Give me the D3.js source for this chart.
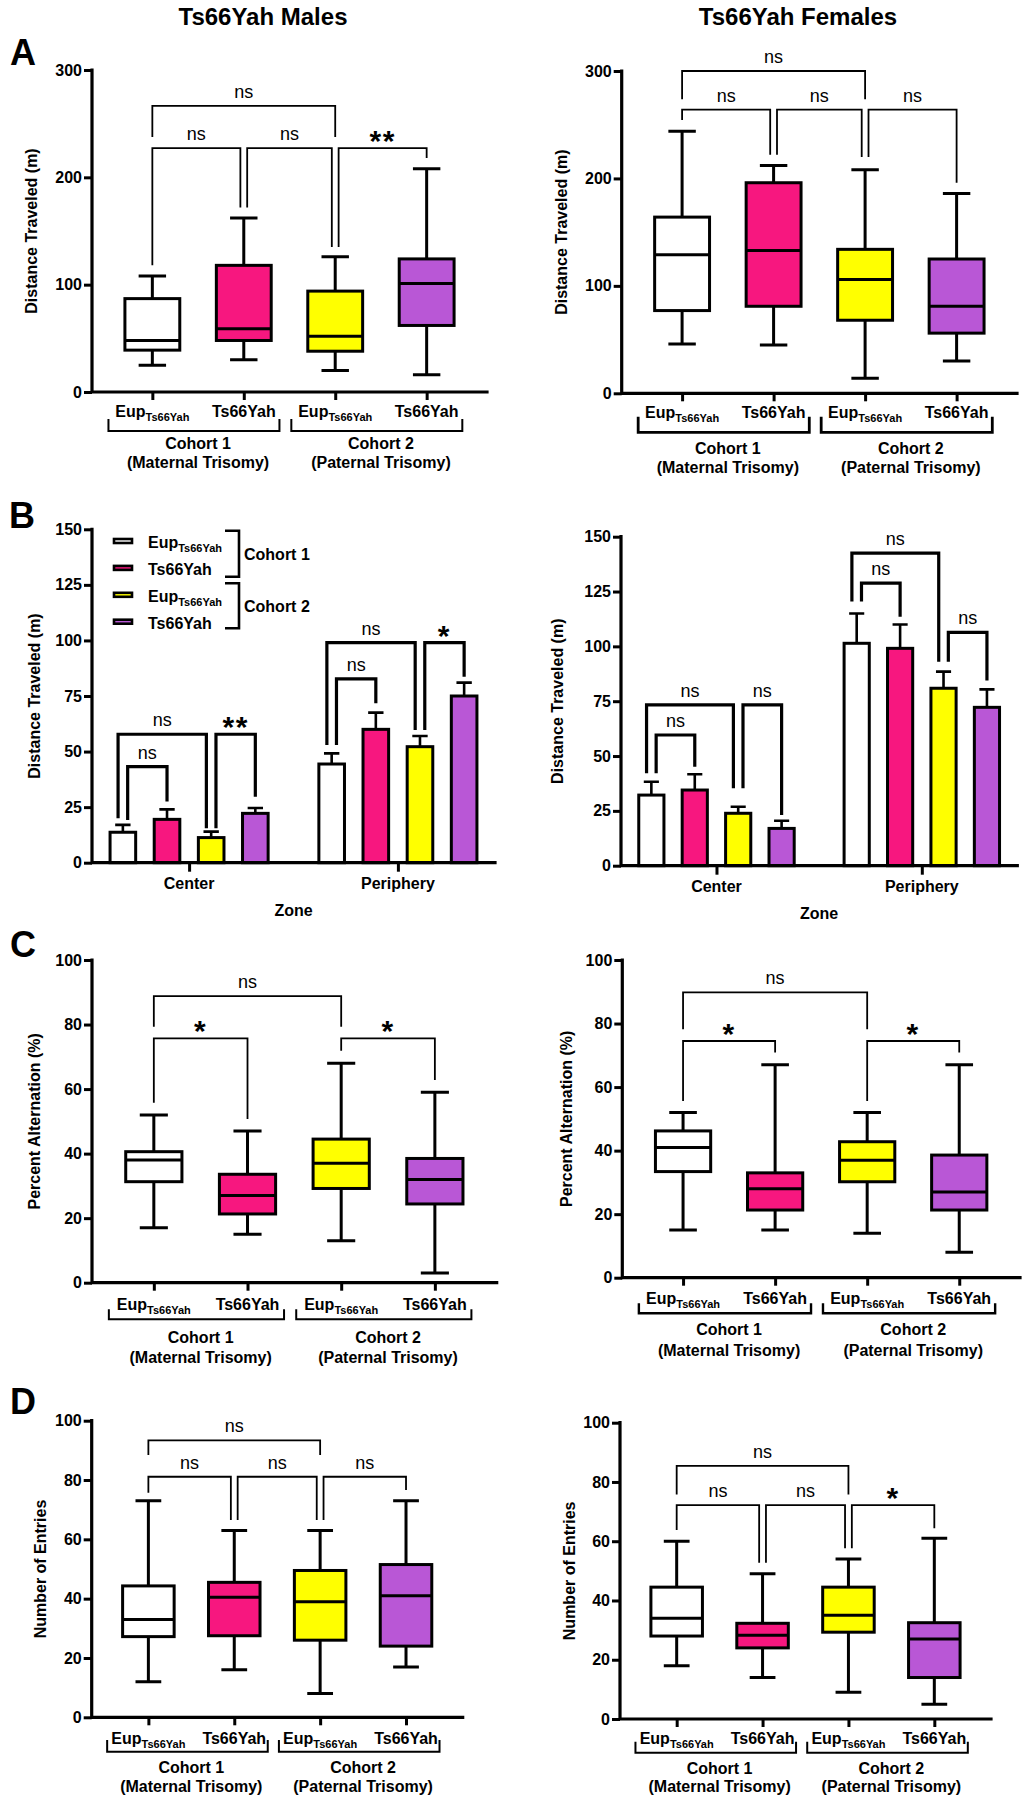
<!DOCTYPE html>
<html><head><meta charset="utf-8">
<script src="https://cdn.jsdelivr.net/npm/d3@7"></script>
<style>body{margin:0;background:#fff}svg{display:block}</style>
</head><body>
<svg id="fig" width="1027" height="1800"></svg>
<script>
// ---------------- DATA ----------------
const columnTitles = ["Ts66Yah Males", "Ts66Yah Females"];
const panelLetters = ["A", "B", "C", "D"];
const groupNames = ["Eup", "Ts66Yah", "Eup", "Ts66Yah"];
const groupSubs = ["Ts66Yah", "", "Ts66Yah", ""];
const groupFills = ["#ffffff", "#f7177f", "#ffff00", "#b957d6"];
const cohortNames = ["Cohort 1", "Cohort 2"];
const cohortParents = ["(Maternal Trisomy)", "(Paternal Trisomy)"];
const zoneNames = ["Center", "Periphery"];

const distTicks = [0, 100, 200, 300];
const zoneTicks = [0, 25, 50, 75, 100, 125, 150];
const pctTicks = [0, 20, 40, 60, 80, 100];

// box stats: [min, q1, median, q3, max]
const distMales = [[25, 39, 48, 87, 108], [30, 48, 59, 118, 162], [20, 38, 52, 94, 126], [16, 62, 101, 124, 208]];
const distFemales = [[46, 77, 129, 164, 244], [45, 81, 133, 196, 212], [14, 68, 106, 134, 208], [30, 56, 81, 125, 186]];
const altMales = [[17, 31.3, 38, 40.6, 52], [15, 21.3, 27, 33.6, 47], [13, 29.2, 37, 44.5, 68], [3, 24.4, 32, 38.5, 59]];
const altFemales = [[15, 33.4, 41, 46.2, 52], [15, 21.3, 28, 33, 67], [14, 30.2, 37, 42.8, 52], [8, 21.3, 27, 38.6, 67]];
const entMales = [[12, 27.2, 33, 44.3, 73], [16, 27.5, 40.5, 45.5, 63], [8, 26, 39, 49.5, 63], [17, 24, 41, 51.5, 73]];
const entFemales = [[18, 28, 34, 44.5, 60], [14, 24, 28.3, 32.3, 49], [9, 29.3, 35, 44.5, 54], [5, 14, 27, 32.5, 61]];

// bar means and mean+SEM, per zone
const zoneMalesMean = [[13.7, 19.5, 11.3, 22.2], [44.4, 60, 52.2, 75]];
const zoneMalesTop = [[17, 24, 14, 24.6], [49.2, 67.5, 57, 81]];
const zoneFemalesMean = [[32.2, 34.5, 23.9, 17], [101.4, 99.1, 80.9, 72.2]];
const zoneFemalesTop = [[38.3, 41.7, 26.9, 20.5], [115, 110, 88.5, 80.4]];

// significance: [from, to, label, lineValue, leftLegEnd, rightLegEnd]
const distMalesSig = [[0, 2, "ns", 266.5, 237.6, 237.6], [0, 1, "ns", 227.3, 118, 172], [1, 2, "ns", 227.3, 172, 135], [2, 3, "**", 227.3, 135, 218]];
const distFemalesSig = [[0, 2, "ns", 300, 273.6, 273.6], [0, 1, "ns", 264, 254.4, 222], [1, 2, "ns", 264, 222, 220], [2, 3, "ns", 264, 220, 196]];
const altMalesSig = [[0, 2, "ns", 88.8, 79.3, 79.3], [0, 1, "*", 75.7, 55.8, 50.7], [2, 3, "*", 75.7, 71.9, 62.8]];
const altFemalesSig = [[0, 2, "ns", 89.8, 78.2, 78.2], [0, 1, "*", 74.5, 55.6, 70.9], [2, 3, "*", 74.5, 55.6, 70.9]];
const entMalesSig = [[0, 2, "ns", 93.4, 88.4, 88.4], [0, 1, "ns", 81.1, 75.7, 66.5], [1, 2, "ns", 81.1, 66.5, 66.5], [2, 3, "ns", 81.1, 66.5, 76.6]];
const entFemalesSig = [[0, 2, "ns", 85.4, 75.8, 75.8], [0, 1, "ns", 72.2, 63.8, 52.7], [1, 2, "ns", 72.2, 52.7, 57.6], [2, 3, "*", 72.2, 57.6, 64.4]];
// zone significance: [zone, fromBar, toBar, label, lineValue, leftLegEnd, rightLegEnd]
const zoneMalesSig = [[0, 0, 1, "ns", 43.2, 19.2, 27.5], [0, 0, 2, "ns", 57.8, 20, 15.5], [0, 2, 3, "**", 57.8, 15.5, 29.7],
                      [1, 0, 1, "ns", 82.7, 53, 71.7], [1, 0, 2, "ns", 99, 53, 59.7], [1, 2, 3, "*", 99, 59.7, 83.7]];
const zoneFemalesSig = [[0, 0, 2, "ns", 73.3, 42.1, 35.3], [0, 0, 1, "ns", 59.6, 42.1, 45.1], [0, 2, 3, "ns", 73.3, 35.3, 23.1],
                        [1, 0, 2, "ns", 142.5, 120.4, 93], [1, 0, 1, "ns", 128.8, 120.4, 113.5], [1, 2, 3, "ns", 106.4, 93, 84.4]];

// ---------------- DRAWING ----------------
const FONT = '"Liberation Sans", Arial, Helvetica, sans-serif';
const svg = d3.select("#fig");
svg.append("rect").attr("width", 1027).attr("height", 1800).attr("fill", "#fff");

function txt(g, x, y, s, size, weight, anchor) {
  return g.append("text").attr("x", x).attr("y", y).text(s)
    .attr("font-family", FONT).attr("font-size", size).attr("font-weight", weight || "bold")
    .attr("text-anchor", anchor || "middle").attr("fill", "#000");
}
function groupLabel(g, x, y, i, anchor) {
  const t = g.append("text").attr("x", x).attr("y", y).attr("font-family", FONT)
    .attr("font-size", 16).attr("font-weight", "bold").attr("text-anchor", anchor || "middle");
  t.append("tspan").text(groupNames[i]);
  if (groupSubs[i]) t.append("tspan").attr("font-size", 11).attr("dy", 4).text(groupSubs[i]);
  return t;
}
function yAxis(g, c, y) {
  const a = g.append("g").attr("transform", `translate(${c.x0},0)`)
    .call(d3.axisLeft(y).tickValues(c.ticks).tickSize(8).tickPadding(2));
  a.select(".domain").remove();
  a.selectAll(".tick line").attr("stroke", "#000").attr("stroke-width", 3);
  a.selectAll(".tick text").attr("font-family", FONT).attr("font-size", 16).attr("font-weight", "bold").attr("fill", "#000");
  g.append("path").attr("d", `M${c.x0},${c.yTop}V${c.yBot}H${c.x1}`)
    .attr("fill", "none").attr("stroke", "#000").attr("stroke-width", 3.2).attr("stroke-linecap", "square");
  txt(g, 0, 0, c.title, 16).attr("transform", `translate(${c.titleX},${(c.yTop + c.yBot) / 2}) rotate(-90)`);
}
function drawSig(g, list, xpos, y, thick) {
  const d = thick ? 4.8 : 3.4;
  const items = list.map(b => ({ from: b[0], to: b[1], label: b[2], line: b[3], legL: b[4], legR: b[5] }));
  const ends = [];
  items.forEach((b, k) => {
    ends.push({ k, side: 0, idx: b.from, other: b.to, top: b.line, bot: b.legL });
    ends.push({ k, side: 1, idx: b.to, other: b.from, top: b.line, bot: b.legR });
  });
  ends.forEach(e => {
    const peers = ends.filter(o => o.idx === e.idx && Math.min(o.top, e.top) > Math.max(o.bot, e.bot));
    if (peers.length > 1) {
      peers.sort((a, b) => 1 / (a.other - a.idx) - 1 / (b.other - b.idx));
      e.off = (peers.indexOf(e) - (peers.length - 1) / 2) * 2 * d;
    } else e.off = 0;
  });
  items.forEach((b, k) => {
    const eL = ends.find(e => e.k === k && e.side === 0), eR = ends.find(e => e.k === k && e.side === 1);
    const xl = xpos(b.from) + eL.off, xr = xpos(b.to) + eR.off, yl = y(b.line);
    g.append("path").attr("d", `M${xl},${y(b.legL)}V${yl}H${xr}V${y(b.legR)}`)
      .attr("fill", "none").attr("stroke", "#000").attr("stroke-width", thick ? 3.2 : 1.8);
    const xm = (xl + xr) / 2;
    if (b.label === "ns") txt(g, xm, yl - 8, "ns", 18, "normal");
    else txt(g, xm, yl + 3, b.label, 30, "bold").attr("letter-spacing", 1.5);
  });
}

function boxPanel(c) {
  const g = svg.append("g");
  const x = d3.scalePoint().domain(d3.range(4)).range([c.x0, c.x1]).padding(0.66);
  const y = d3.scaleLinear().domain([c.ticks[0], c.ticks[c.ticks.length - 1]]).range([c.yBot, c.yTop]);
  const bw = x.step() * 0.6, step = x.step();
  c.data.forEach((d, i) => {
    const cx = x(i), [mn, q1, md, q3, mx] = d;
    g.append("path").attr("d", `M${cx},${y(mx)}V${y(mn)}M${cx - bw / 4},${y(mx)}H${cx + bw / 4}M${cx - bw / 4},${y(mn)}H${cx + bw / 4}`)
      .attr("stroke", "#000").attr("stroke-width", 3).attr("fill", "none");
    g.append("rect").attr("x", cx - bw / 2).attr("y", y(q3)).attr("width", bw).attr("height", y(q1) - y(q3))
      .attr("fill", groupFills[i]).attr("stroke", "#000").attr("stroke-width", 3);
    g.append("line").attr("x1", cx - bw / 2).attr("x2", cx + bw / 2).attr("y1", y(md)).attr("y2", y(md))
      .attr("stroke", "#000").attr("stroke-width", 3);
  });
  yAxis(g, c, y);
  const xa = g.append("g").attr("transform", `translate(0,${c.yBot})`).call(d3.axisBottom(x).tickSize(8).tickFormat(""));
  xa.select(".domain").remove();
  xa.selectAll(".tick line").attr("stroke", "#000").attr("stroke-width", 3);
  d3.range(4).forEach(i => groupLabel(g, x(i), c.yBot + c.lab, i));
  [0, 1].forEach(k => {
    const a = x(2 * k) - 0.48 * step, b = x(2 * k + 1) + 0.39 * step;
    g.append("path").attr("d", `M${a},${c.yBot + c.br[0]}V${c.yBot + c.br[1]}H${b}V${c.yBot + c.br[0]}`)
      .attr("fill", "none").attr("stroke", "#000").attr("stroke-width", c.brW);
    const xm = (x(2 * k) + x(2 * k + 1)) / 2;
    txt(g, xm, c.yBot + c.co[0], cohortNames[k], 16);
    txt(g, xm, c.yBot + c.co[1], cohortParents[k], 16);
  });
  drawSig(g, c.sig, i => x(i), y, false);
}

function barPanel(c) {
  const g = svg.append("g");
  const y = d3.scaleLinear().domain([0, 150]).range([c.yBot, c.yTop]);
  const xz = d3.scalePoint().domain(zoneNames).range([c.x0, c.x1]).padding(0.465);
  const gw = xz.step() * 0.757;
  const xb = d3.scaleBand().domain(d3.range(4)).range([-gw / 2, gw / 2]).paddingInner(0.42).paddingOuter(0);
  const bw = xb.bandwidth();
  const xpos = idx => xz(zoneNames[Math.floor(idx / 4)]) + xb(idx % 4) + bw / 2;
  zoneNames.forEach((z, zi) => {
    c.mean[zi].forEach((m, i) => {
      const cx = xpos(zi * 4 + i), top = c.top[zi][i];
      g.append("path").attr("d", `M${cx},${y(m)}V${y(top)}M${cx - bw * 0.3},${y(top)}H${cx + bw * 0.3}`)
        .attr("stroke", "#000").attr("stroke-width", 2.6).attr("fill", "none");
      g.append("rect").attr("x", cx - bw / 2).attr("y", y(m)).attr("width", bw).attr("height", y(0) - y(m))
        .attr("fill", groupFills[i]).attr("stroke", "#000").attr("stroke-width", 3);
    });
  });
  yAxis(g, c, y);
  const xa = g.append("g").attr("transform", `translate(0,${c.yBot})`).call(d3.axisBottom(xz).tickSize(9).tickFormat(""));
  xa.select(".domain").remove();
  xa.selectAll(".tick line").attr("stroke", "#000").attr("stroke-width", 3);
  zoneNames.forEach(z => txt(g, xz(z), c.yBot + 26, z, 16));
  txt(g, (c.x0 + c.x1) / 2, c.zoneY, "Zone", 16);
  const sig = c.sig.map(s => [s[0] * 4 + s[1], s[0] * 4 + s[2], s[3], s[4], s[5], s[6]]);
  drawSig(g, sig, xpos, y, true);
  if (c.legend) {
    const L = c.legend;
    d3.range(4).forEach(i => {
      const cy = L.y0 + i * L.dy;
      g.append("rect").attr("x", L.x).attr("y", cy - 2).attr("width", 18).attr("height", 4)
        .attr("fill", groupFills[i]).attr("stroke", "#000").attr("stroke-width", 2.6);
      groupLabel(g, L.x + 34, cy + 7, i, "start");
    });
    [0, 1].forEach(k => {
      const t = L.bTop[k], b = L.bBot[k];
      g.append("path").attr("d", `M${L.bx - 14},${t}H${L.bx}V${b}H${L.bx - 14}`)
        .attr("fill", "none").attr("stroke", "#000").attr("stroke-width", 2.6);
      txt(g, L.bx + 5, (t + b) / 2 + 6, cohortNames[k], 16, "bold", "start");
    });
  }
}

// titles & letters
txt(svg, 263, 25, columnTitles[0], 24);
txt(svg, 798, 25, columnTitles[1], 24);
[[10, 65], [9, 528], [10, 957], [10, 1414]].forEach((p, i) => txt(svg, p[0], p[1], panelLetters[i], 36, "bold", "start"));

// panel A
boxPanel({ x0: 92, x1: 487, yTop: 70, yBot: 392, ticks: distTicks, data: distMales, sig: distMalesSig,
  title: "Distance Traveled (m)", titleX: 37, lab: 25, br: [27, 39], brW: 2, co: [57, 76] });
boxPanel({ x0: 621.7, x1: 1017, yTop: 71, yBot: 393.3, ticks: distTicks, data: distFemales, sig: distFemalesSig,
  title: "Distance Traveled (m)", titleX: 567, lab: 25, br: [23.4, 39], brW: 2.8, co: [61, 80] });
// panel B
barPanel({ x0: 92, x1: 495, yTop: 529.3, yBot: 862.7, ticks: zoneTicks, mean: zoneMalesMean, top: zoneMalesTop,
  sig: zoneMalesSig, title: "Distance Traveled (m)", titleX: 40, zoneY: 916,
  legend: { x: 114, y0: 541, dy: 26.9, bx: 239, bTop: [530.7, 583.3], bBot: [576.7, 628.3] } });
barPanel({ x0: 621, x1: 1017.3, yTop: 536.7, yBot: 865.7, ticks: zoneTicks, mean: zoneFemalesMean, top: zoneFemalesTop,
  sig: zoneFemalesSig, title: "Distance Traveled (m)", titleX: 563, zoneY: 918.5 });
// panel C
boxPanel({ x0: 92, x1: 496.7, yTop: 960, yBot: 1282.7, ticks: pctTicks, data: altMales, sig: altMalesSig,
  title: "Percent Alternation (%)", titleX: 40, lab: 27, br: [26.6, 36.6], brW: 2, co: [60, 80.6] });
boxPanel({ x0: 622.3, x1: 1020, yTop: 960, yBot: 1277.7, ticks: pctTicks, data: altFemales, sig: altFemalesSig,
  title: "Percent Alternation (%)", titleX: 572, lab: 26.6, br: [25.6, 35.6], brW: 2.4, co: [57.6, 78] });
// panel D
boxPanel({ x0: 91.7, x1: 462.7, yTop: 1420.7, yBot: 1717.3, ticks: pctTicks, data: entMales, sig: entMalesSig,
  title: "Number of Entries", titleX: 46, lab: 26.7, br: [22.7, 34.4], brW: 2, co: [55.4, 74.4] });
boxPanel({ x0: 620, x1: 991, yTop: 1422.7, yBot: 1719, ticks: pctTicks, data: entFemales, sig: entFemalesSig,
  title: "Number of Entries", titleX: 575, lab: 25, br: [22.7, 33.7], brW: 2, co: [54.7, 73] });
</script>
</body></html>
